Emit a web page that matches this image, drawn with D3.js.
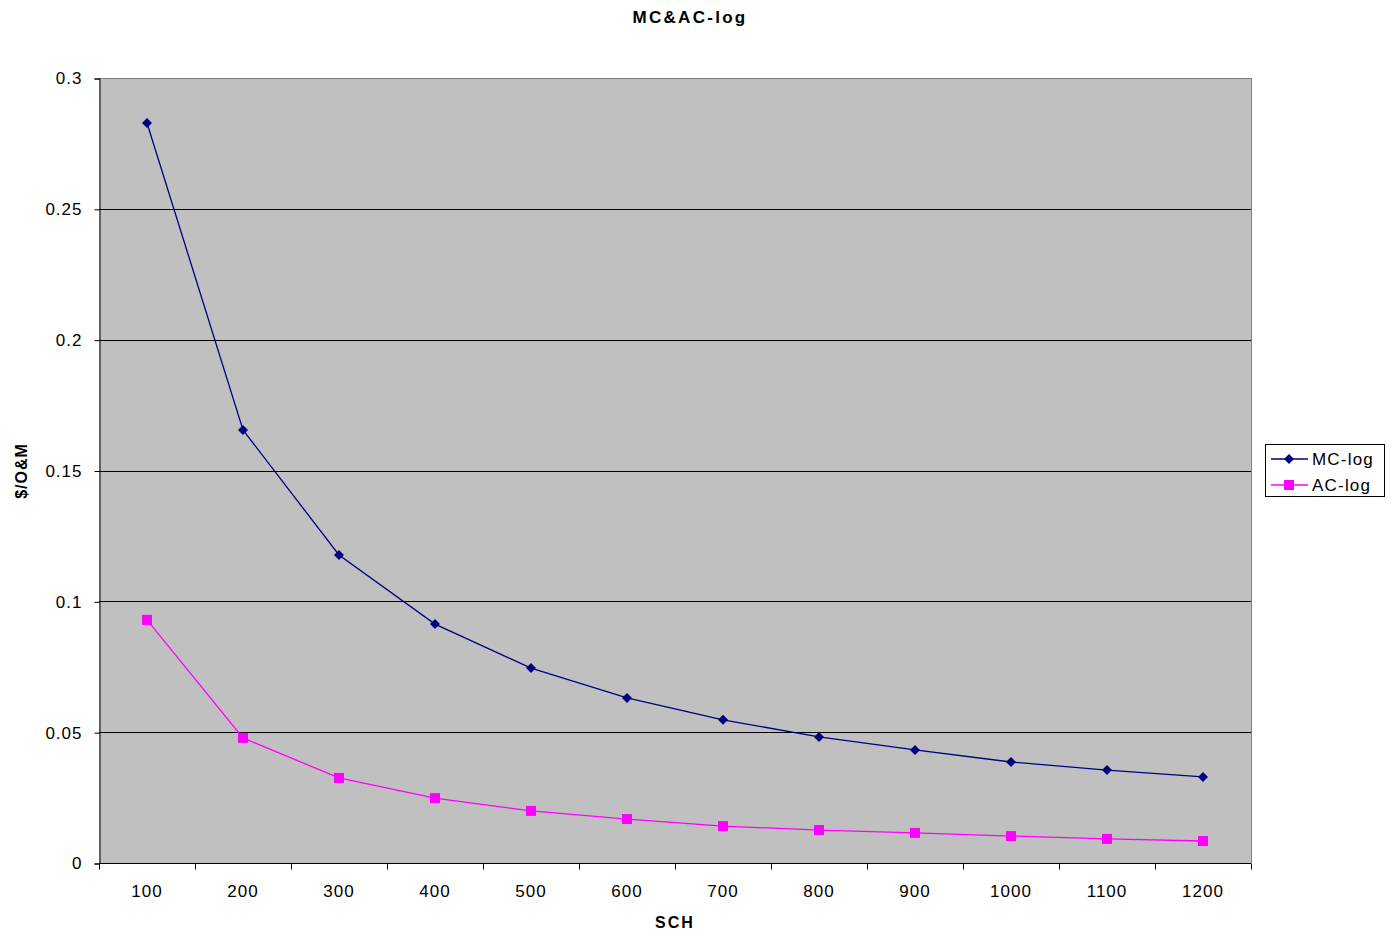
<!DOCTYPE html>
<html><head><meta charset="utf-8">
<script src="https://cdn.jsdelivr.net/npm/d3@7"></script>
<style>body{margin:0;background:#fff}svg{display:block}text{font-family:"Liberation Sans",Arial,sans-serif}</style>
</head><body>
<svg id="c" width="1394" height="940"></svg>
<script>
const categories = ["100","200","300","400","500","600","700","800","900","1000","1100","1200"];
const mcLog = [0.2828,0.1655,0.1177,0.0913,0.0745,0.0631,0.0547,0.0482,0.0432,0.0386,0.0355,0.0329];
const acLog = [0.0929,0.0478,0.0325,0.0248,0.0199,0.0168,0.0141,0.0126,0.0115,0.0103,0.0092,0.0084];
const yTicks = [0,0.05,0.1,0.15,0.2,0.25,0.3];
const yTickLabels = ["0","0.05","0.1","0.15","0.2","0.25","0.3"];
const seriesNames = ["MC-log","AC-log"];

const svg = d3.select("#c");
const L=99,R=1251,T=78,B=863;
const x = d3.scaleBand().domain(categories).range([L,R]);
const y = d3.scaleLinear().domain([0,0.3]).range([B,T]);

svg.append("rect").attr("x",L).attr("y",T).attr("width",R-L).attr("height",B-T).attr("fill","#c0c0c0");
svg.append("g").selectAll("line").data(yTicks.filter(d=>d>0)).join("line")
  .attr("x1",L).attr("x2",R).attr("y1",d=>Math.round(y(d))+0.5).attr("y2",d=>Math.round(y(d))+0.5)
  .attr("stroke",d=>d===0.3?"#808080":"#000").attr("stroke-width",1);
svg.append("line").attr("x1",R+0.5).attr("x2",R+0.5).attr("y1",T).attr("y2",B).attr("stroke","#808080");

const yAxis = d3.axisLeft(y).tickValues(yTicks).tickFormat((d,i)=>yTickLabels[i]).tickSize(5).tickPadding(12);
const gy = svg.append("g").attr("transform",`translate(${L+0.5},0.5)`).call(yAxis);
gy.select(".domain").attr("stroke","#000");
gy.selectAll("text").attr("font-size",17).attr("letter-spacing",1).attr("fill","#000");

const gx = svg.append("g").attr("transform",`translate(0,${B+0.5})`);
gx.append("line").attr("x1",L).attr("x2",R).attr("stroke","#000");
const bounds = categories.map(c=>x(c)).concat([R]);
gx.selectAll("line.t").data(bounds).join("line").attr("class","t")
  .attr("x1",d=>Math.round(d)+0.5).attr("x2",d=>Math.round(d)+0.5).attr("y1",0).attr("y2",6).attr("stroke","#000");
gx.selectAll("text").data(categories).join("text")
  .attr("x",d=>x(d)+x.bandwidth()/2).attr("y",33).attr("text-anchor","middle")
  .attr("font-size",17).attr("letter-spacing",1).text(d=>d);

const cx = c=>x(c)+x.bandwidth()/2;
const line = d3.line().x((d,i)=>cx(categories[i])).y(d=>y(d));
svg.append("path").datum(mcLog).attr("d",line).attr("fill","none").attr("stroke","#000080").attr("stroke-width",1.3);
svg.append("path").datum(acLog).attr("d",line).attr("fill","none").attr("stroke","#ff00ff").attr("stroke-width",1.3);
svg.append("g").selectAll("path").data(mcLog).join("path")
  .attr("transform",(d,i)=>`translate(${cx(categories[i])},${y(d)})`)
  .attr("d","M0,-5L5,0L0,5L-5,0Z").attr("fill","#000080");
svg.append("g").selectAll("rect").data(acLog).join("rect")
  .attr("x",(d,i)=>cx(categories[i])-5).attr("y",d=>y(d)-5).attr("width",10).attr("height",10).attr("fill","#ff00ff");

svg.append("text").attr("x",690).attr("y",23).attr("text-anchor","middle").attr("font-size",17).attr("font-weight","bold").attr("letter-spacing",2.3).text("MC&AC-log");
svg.append("text").attr("x",675).attr("y",928).attr("text-anchor","middle").attr("font-size",16).attr("font-weight","bold").attr("letter-spacing",2).text("SCH");
svg.append("text").attr("transform","translate(27,471) rotate(-90)").attr("text-anchor","middle").attr("font-size",16).attr("font-weight","bold").attr("letter-spacing",1).text("$/O&M");

const lg = svg.append("g");
lg.append("rect").attr("x",1265.5).attr("y",444.5).attr("width",119).attr("height",52).attr("fill","#fff").attr("stroke","#000");
const cols = ["#000080","#ff00ff"];
seriesNames.forEach((n,i)=>{
  const yy = 459 + i*26;
  lg.append("line").attr("x1",1271).attr("x2",1308).attr("y1",yy).attr("y2",yy).attr("stroke",cols[i]).attr("stroke-width",1.3);
  if(i===0) lg.append("path").attr("transform",`translate(1289,${yy})`).attr("d","M0,-5L5,0L0,5L-5,0Z").attr("fill",cols[i]);
  else lg.append("rect").attr("x",1284).attr("y",yy-5).attr("width",10).attr("height",10).attr("fill",cols[i]);
  lg.append("text").attr("x",1312).attr("y",yy+6).attr("font-size",17).attr("letter-spacing",1.2).text(n);
});
</script>
</body></html>
